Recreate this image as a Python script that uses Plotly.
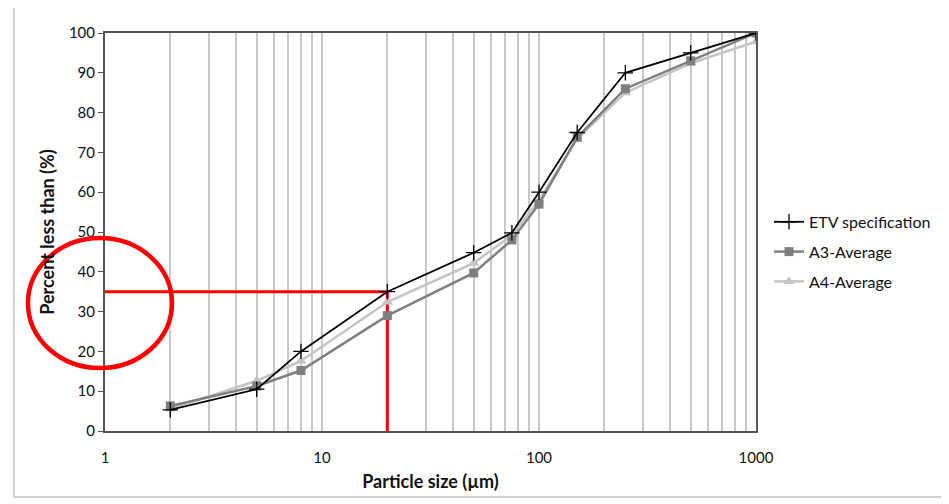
import plotly.graph_objects as go

sizes = [2, 5, 8, 20, 50, 75, 100, 150, 250, 500, 1000]
etv = [5.3, 10.5, 20, 35, 44.8, 49.8, 60, 75, 90, 95, 100]
a3 = [6.3, 11.3, 15.2, 29, 39.7, 48, 57, 73.8, 86, 93, 100]
a4 = [5.6, 12.6, 17.6, 32.4, 42.2, 49.2, 58, 73.4, 85, 92.4, 97.8]

grid_vals = [m * 10 ** e for e in range(3) for m in range(1, 10)] + [1000]
grid_text = [str(v) if v in (1, 10, 100, 1000) else "" for v in grid_vals]
y_ticks = list(range(0, 101, 10))

marker_x = [1, 20, 20]
marker_y = [35, 35, 0]

fig = go.Figure()
fig.add_trace(go.Scatter(x=marker_x, y=marker_y, mode="lines",
                         line=dict(color="#ff0000", width=3), showlegend=False,
                         hoverinfo="skip"))
fig.add_trace(go.Scatter(x=sizes, y=a4, name="A4-Average", mode="lines+markers",
                         legendgroup="a4", legendrank=3,
                         line=dict(color="#c4c4c4", width=2.5),
                         marker=dict(symbol="triangle-up", size=10, color="#c4c4c4")))
fig.add_trace(go.Scatter(x=sizes, y=a3, name="A3-Average", mode="lines+markers",
                         legendgroup="a3", legendrank=2,
                         line=dict(color="#7f7f7f", width=2.5),
                         marker=dict(symbol="square", size=9, color="#7f7f7f")))
fig.add_trace(go.Scatter(x=sizes, y=etv, name="ETV specification", mode="lines+markers",
                         legendgroup="etv", legendrank=1,
                         line=dict(color="#000000", width=1.8),
                         marker=dict(symbol="cross-thin", size=11,
                                     line=dict(color="#000000", width=1.3))))

fig.update_layout(
    width=949, height=504,
    margin=dict(l=97, r=201, t=25, b=81),
    paper_bgcolor="white", plot_bgcolor="white",
    font=dict(family="Lato, 'Open Sans', sans-serif", color="#111111", size=15),
    showlegend=True,
    legend=dict(x=1.02, y=0.45, xanchor="left", yanchor="middle",
                traceorder="grouped", font=dict(size=16),
                itemwidth=30, tracegroupgap=6, bgcolor="rgba(0,0,0,0)"),
    xaxis=dict(type="log", range=[0, 3], tickvals=grid_vals, ticktext=grid_text,
               showgrid=True, gridcolor="#c8c8c8", gridwidth=1.5,
               showline=True, linecolor="#555555", linewidth=2, mirror=True,
               ticks="", ticklabelstandoff=12, zeroline=False,
               title=dict(text="<b>Particle size (µm)</b>", standoff=10,
                          font=dict(size=18))),
    yaxis=dict(range=[0, 100], tickvals=y_ticks, showgrid=False,
               showline=True, linecolor="#555555", linewidth=2, mirror=True,
               ticks="outside", ticklen=5, tickcolor="#555555",
               zeroline=False,
               title=dict(text="<b>Percent less than (%)</b>", standoff=10,
                          font=dict(size=18))),
    shapes=[
        dict(type="rect", xref="paper", yref="paper", x0=-0.1398, x1=1.293,
             y0=-0.166, y1=1.0754, line=dict(color="#d0d0d0", width=2),
             layer="below"),
        dict(type="circle", xref="paper", yref="paper", x0=-0.1183, x1=0.1029,
             y0=0.1583, y1=0.4849, line=dict(color="#ff0000", width=4.5)),
    ],
)

fig.write_html("out.html")
